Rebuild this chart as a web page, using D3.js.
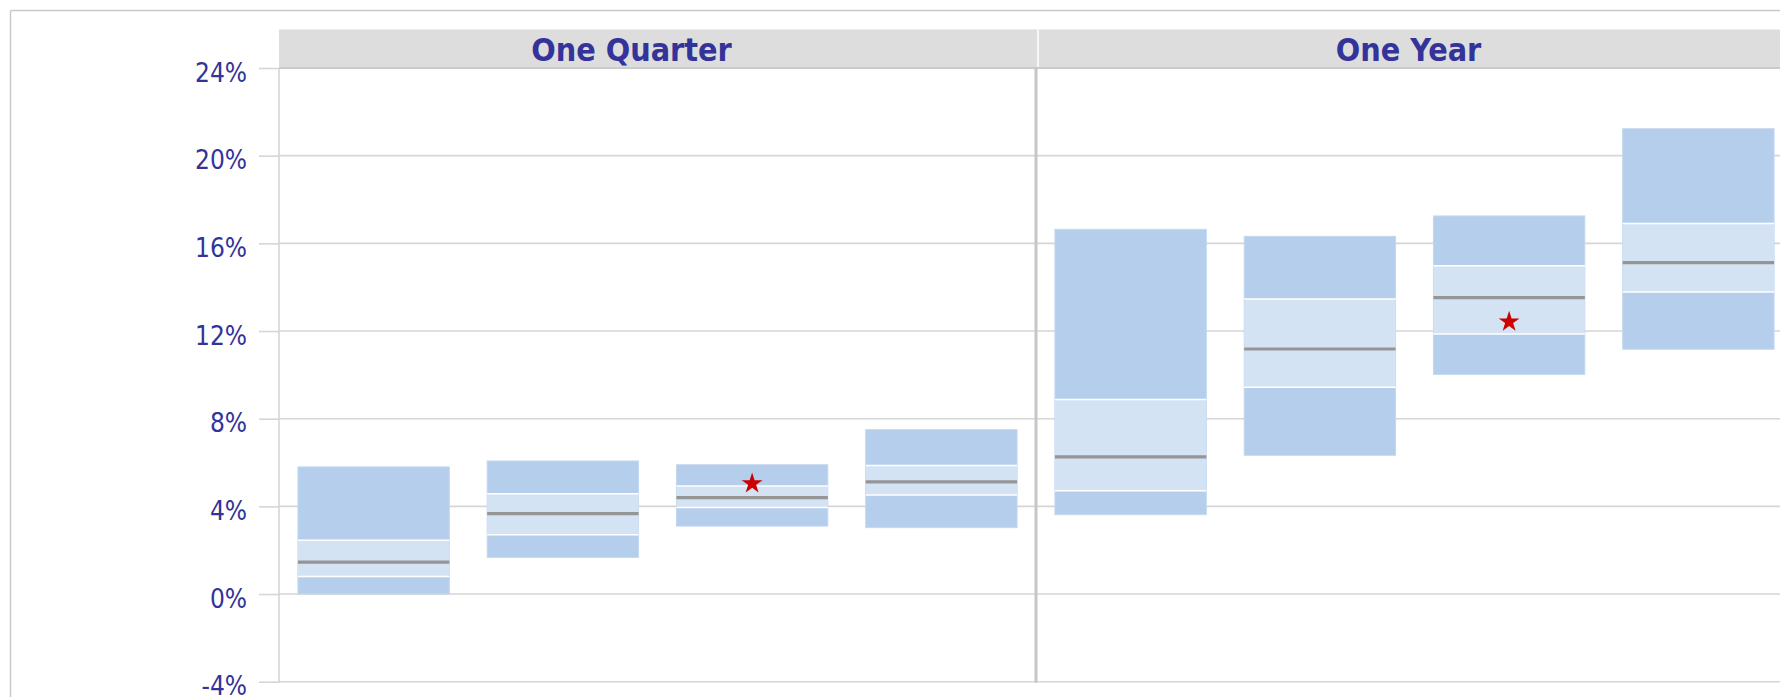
<!DOCTYPE html>
<html>
<head>
<meta charset="utf-8">
<script src="https://cdn.jsdelivr.net/npm/d3@7"></script>
<style>
  html, body { margin: 0; padding: 0; background: #fff; overflow: hidden; }
  svg { display: block; }
  .lbl { font-family: "DejaVu Sans Condensed", "DejaVu Sans", sans-serif; font-stretch: condensed; fill: #333399; }
</style>
</head>
<body>
<svg id="chart" width="1780" height="697"></svg>
<script>
// Panels and their categories
const panels = ["One Quarter", "One Year"];
const categories = ["Group A", "Group B", "Group C", "Group D"];

// Distribution bands per panel (percent): low / lower-quartile / median / upper-quartile / high
const quarterLow    = [0.00, 1.67, 3.10, 3.03];
const quarterQ1     = [0.80, 2.70, 3.95, 4.52];
const quarterMedian = [1.46, 3.67, 4.40, 5.12];
const quarterQ3     = [2.45, 4.57, 4.93, 5.86];
const quarterHigh   = [5.80, 6.07, 5.90, 7.50];

const yearLow    = [3.62, 6.33, 10.02, 11.17];
const yearQ1     = [4.71, 9.43, 11.86, 13.78];
const yearMedian = [6.26, 11.18, 13.52, 15.12];
const yearQ3     = [8.87, 13.46, 14.98, 16.90];
const yearHigh   = [16.64, 16.32, 17.25, 21.23];

// Current value markers (category, value) per panel
const quarterStar = { category: "Group C", value: 5.04 };
const yearStar    = { category: "Group C", value: 12.42 };

// Y-axis tick values
const yTicks = [-4, 0, 4, 8, 12, 16, 20, 24];

const series = [
  { low: quarterLow, q1: quarterQ1, median: quarterMedian, q3: quarterQ3, high: quarterHigh, star: quarterStar },
  { low: yearLow, q1: yearQ1, median: yearMedian, q3: yearQ3, high: yearHigh, star: yearStar }
];

const svg = d3.select("#chart");

const plotLeft = 279, panelW = 757;
const plotTop = 68, plotBottom = 681.7;
const headerTop = 29.5;
const titleShift = [-26, -6];

const y = d3.scaleLinear().domain([-4, 24]).range([plotBottom, plotTop]);
const panelX = d3.scaleBand().domain(panels).range([plotLeft, plotLeft + panelW * panels.length]);
const x = d3.scaleBand().domain(categories).range([0, panelW]).paddingInner(0.2).paddingOuter(0.1);

// Outer frame
svg.append("line").attr("x1", 10.5).attr("x2", 1780).attr("y1", 10.5).attr("y2", 10.5)
  .attr("stroke", "#c9c9c9").attr("stroke-width", 1.5);
svg.append("line").attr("x1", 10.5).attr("x2", 10.5).attr("y1", 10.5).attr("y2", 697)
  .attr("stroke", "#c9c9c9").attr("stroke-width", 1.5);

// Horizontal gridlines
svg.append("g").selectAll("line").data(yTicks).join("line")
  .attr("x1", plotLeft).attr("x2", plotLeft + panelW * panels.length)
  .attr("y1", d => y(d)).attr("y2", d => y(d))
  .attr("stroke", "#d6d6d6").attr("stroke-width", 1.6);

// Y axis
const yAxis = svg.append("g").attr("transform", `translate(${plotLeft},0)`)
  .call(d3.axisLeft(y).tickValues(yTicks).tickSize(20).tickPadding(12).tickFormat(d => d + "%"));
yAxis.select(".domain").remove();
yAxis.selectAll(".tick line").attr("stroke", "#d6d6d6").attr("stroke-width", 1.6);
yAxis.selectAll(".tick text").attr("class", "lbl").attr("font-size", 26).attr("dy", "0.5em");

// Left axis line
svg.append("line").attr("x1", plotLeft).attr("x2", plotLeft).attr("y1", plotTop).attr("y2", plotBottom + 1)
  .attr("stroke", "#d6d6d6").attr("stroke-width", 1.6);

// Panel headers
panels.forEach((p, i) => {
  const px = panelX(p);
  svg.append("rect").attr("x", px).attr("y", headerTop).attr("width", panelW).attr("height", plotTop - headerTop)
    .attr("fill", "#dddddd");
  svg.append("line").attr("x1", px).attr("x2", px + panelW).attr("y1", plotTop).attr("y2", plotTop)
    .attr("stroke", "#cbcbcb").attr("stroke-width", 2);
  svg.append("text").attr("class", "lbl")
    .attr("x", px + panelW / 2 + titleShift[i]).attr("y", 60.5)
    .attr("text-anchor", "middle").attr("font-size", 32).attr("font-weight", "bold")
    .text(p);
});
// white gap between header cells
svg.append("line").attr("x1", panelX(panels[1]) + 2).attr("x2", panelX(panels[1]) + 2)
  .attr("y1", headerTop).attr("y2", plotTop - 1).attr("stroke", "#ffffff").attr("stroke-width", 1.5);

// Panel divider
svg.append("line").attr("x1", panelX(panels[1])).attr("x2", panelX(panels[1]))
  .attr("y1", plotTop).attr("y2", plotBottom + 1)
  .attr("stroke", "#c6c6c6").attr("stroke-width", 3);

// Bars
series.forEach((s, i) => {
  const g = svg.append("g").attr("transform", `translate(${panelX(panels[i])},0)`);
  const rows = categories.map((c, k) => ({
    c, low: s.low[k], q1: s.q1[k], median: s.median[k], q3: s.q3[k], high: s.high[k]
  }));
  const bw = x.bandwidth();
  const bar = g.selectAll("g.bar").data(rows).join("g").attr("class", "bar");
  bar.append("rect")
    .attr("x", d => x(d.c)).attr("width", bw)
    .attr("y", d => y(d.high)).attr("height", d => y(d.low) - y(d.high))
    .attr("fill", "#b4ceeb").attr("stroke", "#c4d8ef").attr("stroke-width", 1);
  bar.append("rect")
    .attr("x", d => x(d.c)).attr("width", bw)
    .attr("y", d => y(d.q3)).attr("height", d => y(d.q1) - y(d.q3))
    .attr("fill", "#d4e3f3");
  bar.append("line")
    .attr("x1", d => x(d.c)).attr("x2", d => x(d.c) + bw)
    .attr("y1", d => y(d.q3)).attr("y2", d => y(d.q3))
    .attr("stroke", "#ffffff").attr("stroke-width", 1.5);
  bar.append("line")
    .attr("x1", d => x(d.c)).attr("x2", d => x(d.c) + bw)
    .attr("y1", d => y(d.q1)).attr("y2", d => y(d.q1))
    .attr("stroke", "#ffffff").attr("stroke-width", 1.5);
  bar.append("line")
    .attr("x1", d => x(d.c)).attr("x2", d => x(d.c) + bw)
    .attr("y1", d => y(d.median)).attr("y2", d => y(d.median))
    .attr("stroke", "#959595").attr("stroke-width", 3.2);

  g.append("path")
    .attr("d", d3.symbol(d3.symbolStar).size(135)())
    .attr("transform", `translate(${x(s.star.category) + bw / 2},${y(s.star.value)})`)
    .attr("fill", "#cc0000");
});
</script>
</body>
</html>
